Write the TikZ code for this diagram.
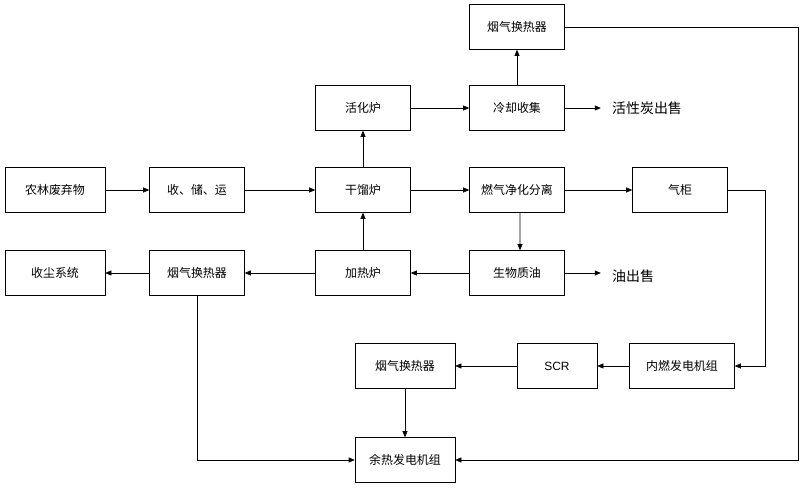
\documentclass[tikz,border=0pt]{standalone}
\usepackage{fontspec}
\setmainfont{Liberation Sans}
\newfontfamily\cjk{Noto Sans CJK SC}
\usetikzlibrary{arrows.meta,positioning}
\tikzset{
  blk/.style={draw, line width=0.6pt, minimum width=95bp, minimum height=45bp, inner sep=1pt, font=\cjk\fontsize{12}{12}\selectfont},
  txt/.style={font=\cjk\fontsize{14}{14}\selectfont, inner sep=1pt},
  flow/.style={-{Triangle[length=6bp,width=5bp]}, line width=0.6pt}
}
\begin{document}
\begin{tikzpicture}[x=1bp,y=-1bp]
  \useasboundingbox (0,0) rectangle (800,494);
  % top rows
  \node[blk] (hx1) at (517,27) {烟气换热器};
  \node[blk] (act) at (363,108) {活化炉};
  \node[blk] (cool) at (517,108) {冷却收集};
  \node[txt,anchor=west] (sale1) at (611,108) {活性炭出售};
  % middle row
  \node[blk, minimum width=100bp] (waste) at (55,190) {农林废弃物};
  \node[blk] (store) at (197,190) {收、储、运};
  \node[blk] (dry) at (363,190) {干馏炉};
  \node[blk] (gas) at (517,190) {燃气净化分离};
  \node[blk] (tank) at (680,190) {气柜};
  % lower row
  \node[blk, minimum width=100bp] (dust) at (55,273) {收尘系统};
  \node[blk] (hx2) at (197,273) {烟气换热器};
  \node[blk] (heat) at (363,273) {加热炉};
  \node[blk] (oil) at (517,273) {生物质油};
  \node[txt,anchor=west] (sale2) at (611,276) {油出售};
  % bottom
  \node[blk, minimum width=100bp] (hx3) at (405,366) {烟气换热器};
  \node[blk, minimum width=80bp, font=\fontsize{12}{12}\selectfont] (scr) at (557,366) {SCR};
  \node[blk, minimum width=105bp] (ice) at (682,366) {内燃发电机组};
  \node[blk, minimum width=100bp] (whp) at (405,460) {余热发电机组};
  \coordinate (cR) at (765,190);
  \coordinate (cE) at (798,27);

  \draw[flow] (waste) -- (store);
  \draw[flow] (store) -- (dry);
  \draw[flow] (dry) -- (act);
  \draw[flow] (act) -- (cool);
  \draw[flow] (cool) -- (hx1);
  \draw[flow] (cool.east) -- ++(36,0);
  \draw[flow] (dry) -- (gas);
  \draw[flow] (gas) -- (tank);
  \draw[flow] (gas.south) ++(3,0) -- ([xshift=3bp]oil.north);
  \draw[flow] (oil) -- (heat);
  \draw[flow] (heat) -- (dry);
  \draw[flow] (heat) -- (hx2);
  \draw[flow] (hx2) -- (dust);
  \draw[flow] (oil.east) -- ++(36,0);
  \draw[flow] (tank.east) -- (cR) |- (ice.east);
  \draw[flow] (ice) -- (scr);
  \draw[flow] (scr) -- (hx3);
  \draw[flow] (hx3) -- (whp);
  \draw[flow] (hx2.south) |- (whp.west);
  \draw[flow] (hx1.east) -- (cE) |- (whp.east);
\end{tikzpicture}
\end{document}
